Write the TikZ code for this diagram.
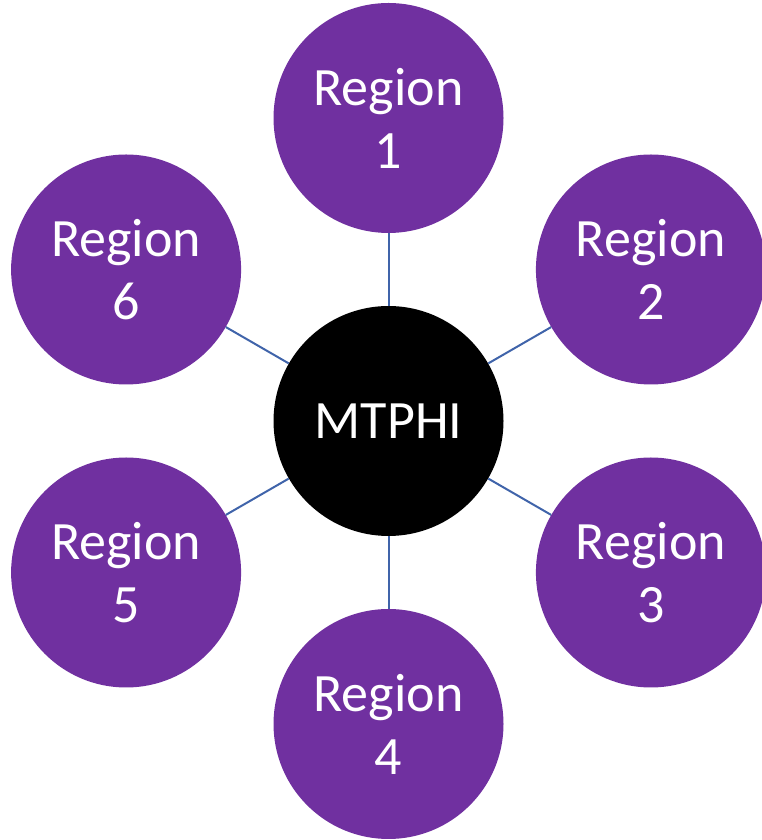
\documentclass[tikz,border=0pt]{standalone}
\usepackage{fontspec}
\setmainfont{Carlito}
\definecolor{regpurple}{RGB}{112,48,160}
\definecolor{linkblue}{RGB}{64,100,170}
\begin{document}
\begin{tikzpicture}[x=1pt,y=1pt,
  region/.style={circle, fill=regpurple, minimum size=230pt, inner sep=0pt, text=white, font=\fontsize{54}{63}\selectfont, align=center},
  hub/.style={circle, fill=black, minimum size=230pt, inner sep=0pt, text=white, font=\fontsize{54}{63}\selectfont},
  link/.style={draw=linkblue, line width=2pt}]
\useasboundingbox (0,0) rectangle (761,840);
\node[hub] (hub) at (388.5,419) {MTPHI};
\node[region] (r1) at (388.5,722) {Region\\1};
\node[region] (r2) at (650.9,570.5) {Region\\2};
\node[region] (r3) at (650.9,267.5) {Region\\3};
\node[region] (r4) at (388.5,116) {Region\\4};
\node[region] (r5) at (126.1,267.5) {Region\\5};
\node[region] (r6) at (126.1,570.5) {Region\\6};
\foreach \r in {r1,r2,r3,r4,r5,r6}{\draw[link] (hub) -- (\r);}
\end{tikzpicture}
\end{document}
